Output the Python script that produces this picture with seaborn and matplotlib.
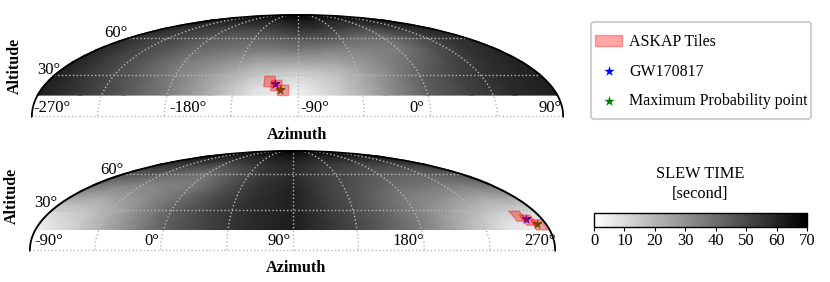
import numpy as np
import matplotlib
matplotlib.use("Agg")
import matplotlib.pyplot as plt
from matplotlib.cm import ScalarMappable
from matplotlib.colors import Normalize
from matplotlib.patches import FancyBboxPatch
import seaborn as sns

sns.set_theme(style="white")
plt.rcParams['font.family'] = ['Liberation Serif', 'DejaVu Serif']

# slew time table
az_grid = np.arange(-270, 91, 30)
alt_grid = np.array([15, 20, 30, 40, 50, 60, 70, 80, 90])
slew = np.array([
    [62, 54, 46, 36, 22, 8, 4, 14, 29, 44, 52, 58, 62],
    [62, 54, 46, 36, 22, 9, 5, 15, 29, 44, 52, 58, 62],
    [61, 53, 45, 35, 25, 16, 12, 17, 29, 43, 52, 58, 61],
    [61, 52, 45, 36, 31, 25, 25, 25, 31, 40, 50, 57, 61],
    [60, 52, 47, 41, 38, 36, 38, 34, 34, 36, 47, 56, 60],
    [58, 52, 49, 45, 43, 44, 47, 46, 41, 39, 46, 54, 58],
    [60, 56, 54, 52, 52, 54, 58, 56, 53, 50, 54, 58, 60],
    [65, 62, 62, 62, 62, 62, 65, 63, 62, 62, 62, 63, 65],
    [69, 69, 69, 69, 69, 69, 69, 69, 69, 69, 69, 69, 69],
])

# ASKAP tiles (centre az, centre alt), half size in degrees
tile_az_top = [-110, -105, -100]
tile_az_bot = [254, 259, 264]
tile_alt = [25, 22, 18.5]
tile_half = 3.8
gw_az = [-106, 258]
gw_alt = 23
maxp_az = [-102, 263]
maxp_alt = 19

cmap = sns.color_palette("gray_r", as_cmap=True)
norm = Normalize(0, 70)
W, H = 830, 282
fig = plt.figure(figsize=(8.3, 2.82), dpi=100)


def panel(left, right, pole, equator, centre, az_vals, vals, tiles, gw, maxp):
    height = 2 * (equator - pole)
    ax = fig.add_axes([left / W, 1 - (pole + height) / H, (right - left) / W, height / H],
                      projection='mollweide')
    ax.set_aspect('auto')
    ax.patch.set_visible(False)
    ax.spines['geo'].set_visible(False)
    ax.set_xticks([])
    ax.set_yticks([])
    ax.grid(False)

    def lon(a):
        return np.radians((np.asarray(a) - centre + 180) % 360 - 180)

    x, y = np.meshgrid(np.radians(az_vals - centre), np.radians(alt_grid))
    ax.pcolormesh(x, y, vals, cmap=cmap, norm=norm, shading='gouraud', rasterized=True)

    # grid
    alts = np.radians([0, 90])
    for k in range(-4, 5):
        ax.plot([np.radians(k * 45)] * 2, alts, ls=':', color='#b8b8b8', lw=1, zorder=3)
    for a in [0, 30, 60]:
        ax.plot([-np.pi, np.pi], [np.radians(a)] * 2, ls=':', color='#b8b8b8', lw=1, zorder=3)
    # outline, half of it clipped so it thins out to the top
    for s in [-1, 1]:
        ax.plot([s * np.pi] * 2, alts, color='black', lw=2.6, zorder=6)

    ax.scatter(lon(gw), np.radians(gw_alt), marker='*', s=60, color='blue', lw=0, zorder=4,
               label='GW170817')
    ax.scatter(lon(maxp), np.radians(maxp_alt), marker='*', s=60, color='green', lw=0, zorder=4,
               label='Maximum Probability point')
    for i, (a, b) in enumerate(zip(tiles, tile_alt)):
        xs = lon(a) + np.radians(tile_half) * np.array([-1, 1, 1, -1])
        ys = np.radians(b) + np.radians(tile_half) * np.array([-1, -1, 1, 1])
        ax.fill(xs, ys, facecolor='red', edgecolor='red', alpha=0.35, lw=1, zorder=5,
                label='ASKAP Tiles' if i == 0 else None)
    return ax


def px(x, y, s, **kw):
    fig.text(x / W, 1 - y / H, s, ha='center', va='center', color='black', **kw)


ax1 = panel(31, 564, 14, 116, -90, az_grid, slew, tile_az_top, gw_az[0], maxp_az[0])

# bottom panel is the same sky shifted by 180 deg
az2 = np.concatenate([az_grid[6:], az_grid[1:7] + 360])
slew2 = np.hstack([slew[:, 6:], slew[:, 1:7]])
ax2 = panel(29, 556, 150, 250, 90, az2, slew2, tile_az_bot, gw_az[1], maxp_az[1])

top_labels = ['-270°', '-180°', '-90°', '0°', '90°']
top_x = [52, 188, 315, 417, 550]
bot_labels = ['-90°', '0°', '90°', '180°', '270°']
bot_x = [49, 152, 279, 408, 540]
for x, s in zip(top_x, top_labels):
    px(x, 108, s, fontsize=12)
for x, s in zip(bot_x, bot_labels):
    px(x, 241, s, fontsize=12)
px(49, 70, '30°', fontsize=12)
px(116, 33, '60°', fontsize=12)
px(46, 203, '30°', fontsize=12)
px(112, 170, '60°', fontsize=12)
px(15, 66, 'Altitude', fontsize=11.5, fontweight='bold', rotation=90)
px(12, 196, 'Altitude', fontsize=11.5, fontweight='bold', rotation=90)
px(297, 135, 'Azimuth', fontsize=11.7, fontweight='bold')
px(296, 268, 'Azimuth', fontsize=11.7, fontweight='bold')

# legend frame drawn apart from the legend, its padding differs in x and y
frame = FancyBboxPatch((591, H - 119), 220, 97, boxstyle='round,pad=0,rounding_size=3',
                       transform=None, facecolor='white', edgecolor='#d0d0d0', lw=1.5)
fig.add_artist(frame)

handles, labels = ax1.get_legend_handles_labels()
order = [labels.index(n) for n in ['ASKAP Tiles', 'GW170817', 'Maximum Probability point']]
fig.legend([handles[i] for i in order], [labels[i] for i in order],
           loc='upper left', bbox_to_anchor=(595 / W, 1 - 34 / H), borderaxespad=0,
           fontsize=11.5, labelspacing=0.85, handletextpad=0.45, borderpad=0,
           handlelength=1.7, frameon=False, labelcolor='black')

cax = fig.add_axes([594 / W, 1 - 227 / H, 213 / W, 14 / H])
cb = fig.colorbar(ScalarMappable(norm=norm, cmap=cmap), cax=cax, orientation='horizontal')
cb.set_ticks(np.arange(0, 71, 10))
cb.ax.tick_params(labelsize=12, length=3, width=0.8, pad=1, bottom=True, colors='black')
cb.outline.set_edgecolor('black')
cb.outline.set_linewidth(1)
px(700, 174, 'SLEW TIME', fontsize=11.8)
px(700, 194, '[second]', fontsize=11.8)

fig.savefig('out.png', dpi=100)
